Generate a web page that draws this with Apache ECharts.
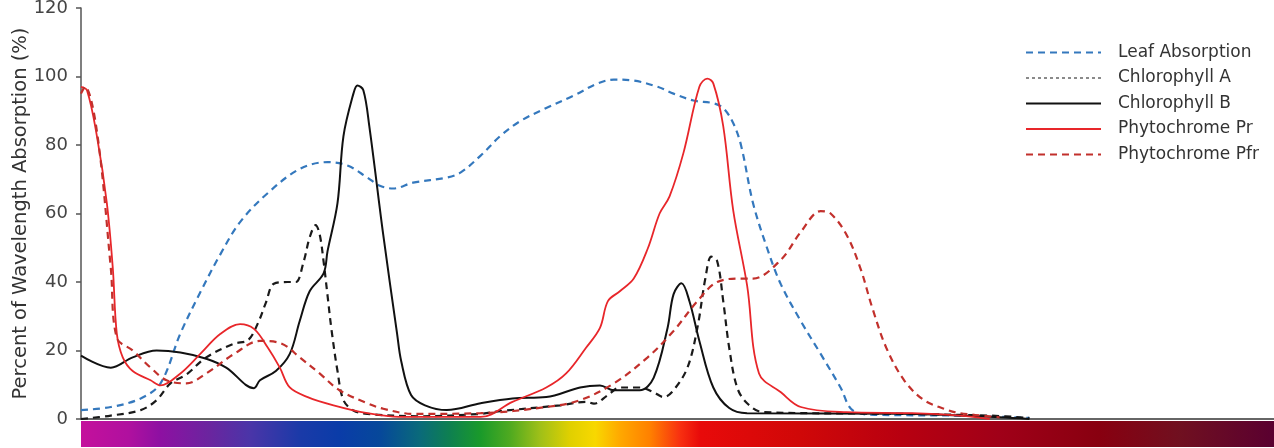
<!DOCTYPE html>
<html>
<head>
<meta charset="utf-8">
<script src="https://cdn.jsdelivr.net/npm/echarts@6/dist/echarts.min.js"></script>
<style>
  html, body { margin: 0; padding: 0; background: #fff; }
  #chart { width: 1274px; height: 448px; }
</style>
</head>
<body>
<div id="chart"></div>
<script>
// Absorption spectra: [wavelength (nm), percent absorbed]
const leafAbsorption = [
  [300,2.6],[315,3.5],[330,6],[340,10.4],[350,25],[360,37],[370,48],[380,57.5],[394,66],
  [410,73],[424,75],[434,74],[444,70.5],[450,68.2],[457,67.3],[467,69],[484,70.5],[491,72],
  [501,76.9],[511,82.7],[521,87],[534,90.8],[548,94.5],[560,98],[568,99.1],[578,98.8],
  [590,97],[598,95],[608,93],[618,92.2],[623,90.8],[628,86.4],[632,79.8],[638,63],[645,50],
  [652,39.3],[662,28.6],[672,19],[682,9.2],[688,2.6],[700,1.2],[740,1],[777,0.3]
];
const chlorophyllA = [
  [300,0],[315,1],[330,2.6],[338,5.5],[345,10.4],[353,13],[363,18],[377,22],[384,23],
  [389,28],[393,34],[397,39.5],[404,40],[408,40],[412,46],[415,53],[418,56.6],[420,54],
  [422,46],[424,36],[426,26],[429,14],[432,5.5],[437,2.5],[444,1.5],[470,0.8],[501,1.5],
  [511,2.3],[541,4],[554,5],[558,4.5],[565,7],[571,9.2],[581,9.2],[588,7.8],[593,6.4],
  [598,8.4],[605,15],[610,26.6],[614,41],[617,47.4],[620,46],[623,34.4],[626,20.8],
  [630,9.2],[635,4.6],[643,2],[712,1.5],[757,1],[777,0.3]
];
const chlorophyllB = [
  [300,18.5],[315,15],[326,18],[338,20],[350,19.4],[363,17.6],[373,15],[387,9],[390,11.3],
  [398,14],[405,19],[410,28.6],[415,37.3],[422,42.5],[424,49],[429,63],[432,82.6],[437,95],
  [439,97.4],[442,96],[445,85.5],[452,53.8],[459,24.8],[461,17],[466,7],[473,4],[484,2.6],
  [501,4.6],[517,6],[534,6.4],[551,9.2],[561,9.8],[568,8.4],[581,8.4],[588,12],[595,26.6],
  [598,36.4],[602,39.6],[606,34.4],[611,22.8],[618,9.2],[626,3.2],[635,1.7],[712,1.5],
  [762,0.5],[777,0]
];
const phytochromePr = [
  [300,97],[303,96],[308,82.6],[313,63],[316,44],[318,25],[321,18],[326,14],[335,11.3],
  [340,9.8],[350,13.3],[360,19],[370,24.8],[380,27.7],[387,26.3],[394,20.8],[400,15],
  [405,9.2],[414,6.4],[427,4],[444,1.7],[460,0.6],[501,0.6],[517,5],[534,9.2],[544,13.3],
  [554,20.8],[561,26.6],[565,34.4],[571,37.3],[578,41],[585,49.7],[591,60],[596,65],
  [603,77.7],[611,97],[615,99.4],[618,98],[623,85.5],[628,61],[635,39],[641,13.3],
  [652,7.8],[662,3.5],[685,2],[718,1.7],[742,1],[757,0]
];
const phytochromePfr = [
  [300,95],[302,97],[308,84],[315,44],[318,23.7],[326,20],[335,15],[343,11.3],[353,10.4],
  [363,13.3],[377,19],[390,22.8],[401,22],[410,18],[420,13.3],[430,8.4],[444,4.6],[452,3],
  [467,1.5],[501,1.7],[534,3.5],[551,5.5],[568,10.4],[585,18],[598,25.7],[610,34.4],
  [620,40],[632,41],[638,41],[652,46.5],[662,54.6],[672,60.7],[677,60],[685,53.8],[692,44],
  [698,32.4],[705,20.8],[714,11.3],[724,5.5],[736,2.6],[742,1.7],[762,0.5]
];

const yTicks = [0, 20, 40, 60, 80, 100, 120];

// Visible-spectrum strip under the wavelength axis
const spectrumStops = [
  [0.000, '#c4109c'], [0.040, '#b0109f'], [0.066, '#8e10a2'], [0.108, '#6a259f'],
  [0.142, '#4a35a8'], [0.184, '#1a3aa8'], [0.217, '#0a3ca8'], [0.251, '#06489a'],
  [0.284, '#0a6a7a'], [0.309, '#0e8050'], [0.335, '#1a9a2a'], [0.360, '#50aa20'],
  [0.385, '#a0c018'], [0.410, '#e0d000'], [0.431, '#f8d800'], [0.452, '#ffa800'],
  [0.477, '#ff8000'], [0.502, '#f83010'], [0.519, '#e80a0a'], [0.603, '#d00808'],
  [0.687, '#b80010'], [0.770, '#a00018'], [0.854, '#880010'], [0.921, '#701020'],
  [1.000, '#5a0030']
];

const FONT = 'DejaVu Sans, Verdana, sans-serif';
const chart = echarts.init(document.getElementById('chart'), null, { renderer: 'canvas' });

const GRID = { left: 81, right: 0, top: 8, bottom: 29, containLabel: false, outerBoundsMode: 'none' };

function line(name, data, color, width, type) {
  return {
    name, type: 'line', data, smooth: 0.35, symbol: 'none',
    lineStyle: { color, width, type },
    itemStyle: { color },
    z: 3
  };
}

chart.setOption({
  animation: false,
  backgroundColor: '#ffffff',
  textStyle: { fontFamily: FONT },
  grid: GRID,
  legend: {
    orient: 'vertical',
    left: 1020, top: 39,
    itemWidth: 75, itemHeight: 12,
    itemGap: 8.5,
    itemStyle: { opacity: 0 },
    textStyle: { fontFamily: FONT, fontSize: 17, color: '#333', padding: [0, 0, 0, 12] },
    data: [
      { name: 'Leaf Absorption' },
      { name: 'Chlorophyll A', lineStyle: { color: '#8a8a8a', type: [3, 3], width: 2 } },
      { name: 'Chlorophyll B' },
      { name: 'Phytochrome Pr' },
      { name: 'Phytochrome Pfr' }
    ]
  },
  xAxis: [
    {
      type: 'value', min: 300, max: 900, position: 'bottom',
      axisLine: { show: true, onZero: false, lineStyle: { color: '#111', width: 2 } },
      axisTick: { show: false }, axisLabel: { show: false }, splitLine: { show: false }
    },
    {
      type: 'value', min: 300, max: 900, position: 'top',
      axisLine: { show: true, lineStyle: { color: '#666', width: 2 } },
      axisTick: { show: false }, axisLabel: { show: false }, splitLine: { show: false }
    }
  ],
  yAxis: {
    type: 'value', min: 0, max: 120, interval: 20,
    name: 'Percent of Wavelength Absorption (%)',
    nameLocation: 'middle', nameGap: 50, nameMoveOverlap: false,
    nameTextStyle: { fontFamily: FONT, fontSize: 19.5, color: '#333' },
    axisLine: { show: true, lineStyle: { color: '#555', width: 1.5 } },
    axisTick: { show: true, length: 5, lineStyle: { color: '#555', width: 1.5 } },
    axisLabel: { fontFamily: FONT, fontSize: 18, color: '#444', margin: 13,
                 formatter: v => (yTicks.includes(v) ? String(v) : '') },
    splitLine: { show: false }
  },
  graphic: [{
    type: 'rect',
    shape: { x: GRID.left, y: 421, width: 1274 - GRID.left, height: 26 },
    style: {
      fill: new echarts.graphic.LinearGradient(0, 0, 1, 0,
        spectrumStops.map(([offset, color]) => ({ offset, color })))
    },
    z: 1
  }],
  series: [
    line('Leaf Absorption', leafAbsorption, '#3478bd', 2.2, [7, 5]),
    line('Chlorophyll A', chlorophyllA, '#1a1a1a', 2.2, [7, 5]),
    line('Chlorophyll B', chlorophyllB, '#111111', 2, 'solid'),
    line('Phytochrome Pr', phytochromePr, '#e8262a', 1.8, 'solid'),
    line('Phytochrome Pfr', phytochromePfr, '#c2302c', 2.2, [7, 5])
  ]
});
</script>
</body>
</html>
